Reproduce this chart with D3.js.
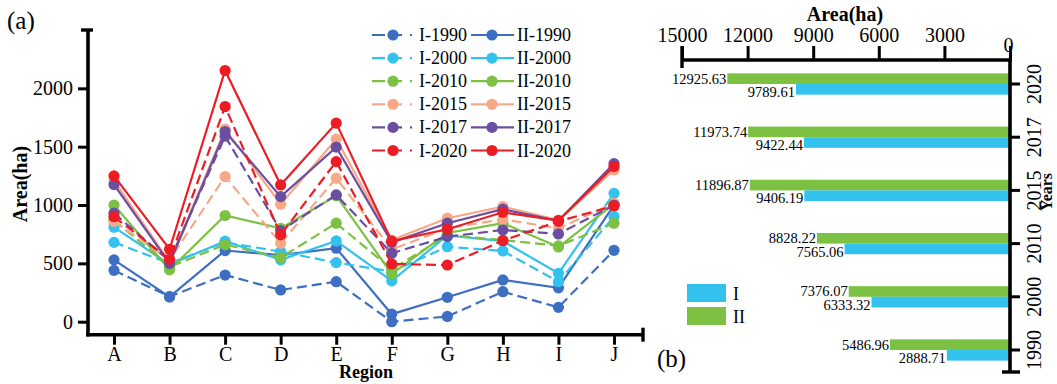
<!DOCTYPE html>
<html>
<head>
<meta charset="utf-8">
<script src="https://cdn.jsdelivr.net/npm/d3@7"></script>
<style>
  body { margin: 0; background: #fff; }
  svg { display: block; font-family: "Liberation Serif", "Times New Roman", serif; }
</style>
</head>
<body>
<svg id="chart" width="1057" height="384"></svg>
<script>
// ---- Panel (a): area by region, type I (dashed) and type II (solid) ----
const regions = ["A", "B", "C", "D", "E", "F", "G", "H", "I", "J"];
const lineYears = ["1990", "2000", "2010", "2015", "2017", "2020"];
const yTicksA = [0, 500, 1000, 1500, 2000];

const i1990  = [440, 215, 400, 272, 343, 0, 45, 257, 123, 612];
const ii1990 = [530, 212, 610, 570, 630, 65, 209, 358, 290, 1000];
const i2000  = [680, 500, 680, 600, 506, 430, 643, 606, 343, 900];
const ii2000 = [810, 490, 690, 530, 692, 350, 740, 690, 415, 1100];
const i2010  = [870, 470, 660, 550, 844, 450, 740, 700, 650, 844];
const ii2010 = [1000, 445, 910, 800, 1080, 410, 760, 844, 640, 1010];
const i2015  = [860, 530, 1244, 672, 1230, 620, 800, 878, 800, 1015];
const ii2015 = [1210, 510, 1650, 1007, 1564, 700, 887, 986, 870, 1300];
const i2017  = [930, 520, 1590, 780, 1087, 587, 729, 786, 752, 1000];
const ii2017 = [1175, 500, 1630, 1072, 1496, 680, 844, 964, 865, 1355];
const i2020  = [900, 535, 1844, 744, 1372, 495, 486, 695, 860, 992];
const ii2020 = [1250, 621, 2153, 1172, 1702, 690, 792, 938, 866, 1330];

// ---- Panel (b): total area per year ----
const barYears = ["2020", "2017", "2015", "2010", "2000", "1990"];
const totalI  = [9789.61, 9422.44, 9406.19, 7565.06, 6333.32, 2888.71];
const totalII = [12925.63, 11973.74, 11896.87, 8828.22, 7376.07, 5486.96];
const xTicksB = [15000, 12000, 9000, 6000, 3000, 0];

const yearColor = {
  "1990": "#3d6ec1", "2000": "#33c1ee", "2010": "#7cc142",
  "2015": "#f7a987", "2017": "#6a4ea2", "2020": "#ed1c24"
};
const colorI = "#33c1ee", colorII = "#7cc142";

const series = [
  { name: "I-1990", year: "1990", type: "I", values: i1990 },
  { name: "II-1990", year: "1990", type: "II", values: ii1990 },
  { name: "I-2000", year: "2000", type: "I", values: i2000 },
  { name: "II-2000", year: "2000", type: "II", values: ii2000 },
  { name: "I-2010", year: "2010", type: "I", values: i2010 },
  { name: "II-2010", year: "2010", type: "II", values: ii2010 },
  { name: "I-2015", year: "2015", type: "I", values: i2015 },
  { name: "II-2015", year: "2015", type: "II", values: ii2015 },
  { name: "I-2017", year: "2017", type: "I", values: i2017 },
  { name: "II-2017", year: "2017", type: "II", values: ii2017 },
  { name: "I-2020", year: "2020", type: "I", values: i2020 },
  { name: "II-2020", year: "2020", type: "II", values: ii2020 }
];

const svg = d3.select("#chart");

// =================== Panel (a) ===================
const axX = 88, axY = 334.7;
const x = d3.scalePoint().domain(regions).range([114, 614]);
const y = d3.scaleLinear().domain([0, 2500]).range([321.7, 30]);

svg.append("text").attr("x", 7).attr("y", 29).attr("font-size", 25).text("(a)");

const gA = svg.append("g");

// y axis
const yAxis = d3.axisLeft(y).tickValues(yTicksA).tickSize(10).tickPadding(5).tickFormat(d3.format("d"));
const gy = gA.append("g").attr("transform", `translate(${axX},0)`).call(yAxis);
gy.select(".domain").remove();
gy.selectAll(".tick line").attr("stroke", "#000").attr("stroke-width", 3);
gy.selectAll(".tick text").attr("font-size", 20).attr("fill", "#000")
  .attr("font-family", "Liberation Serif, serif");
gA.append("line").attr("x1", axX).attr("x2", axX).attr("y1", y(2500)).attr("y2", axY + 1.7)
  .attr("stroke", "#000").attr("stroke-width", 3.6);
gA.append("line").attr("x1", axX - 7).attr("x2", axX + 5).attr("y1", y(2500)).attr("y2", y(2500))
  .attr("stroke", "#000").attr("stroke-width", 3.4);

// x axis
const xAxis = d3.axisBottom(x).tickSize(10).tickPadding(2);
const gx = gA.append("g").attr("transform", `translate(0,${axY})`).call(xAxis);
gx.select(".domain").remove();
gx.selectAll(".tick line").attr("stroke", "#000").attr("stroke-width", 3);
gx.selectAll(".tick text").attr("font-size", 20).attr("fill", "#000")
  .attr("font-family", "Liberation Serif, serif");
gA.append("line").attr("x1", axX - 1.8).attr("x2", 644).attr("y1", axY).attr("y2", axY)
  .attr("stroke", "#000").attr("stroke-width", 3.6);
gA.append("line").attr("x1", 643).attr("x2", 643).attr("y1", axY - 7).attr("y2", axY + 7)
  .attr("stroke", "#000").attr("stroke-width", 3.4);

// axis titles
gA.append("text").attr("transform", "translate(27,184) rotate(-90)")
  .attr("text-anchor", "middle").attr("font-size", 20).attr("font-weight", "bold").text("Area(ha)");
gA.append("text").attr("x", 366).attr("y", 378)
  .attr("text-anchor", "middle").attr("font-size", 18).attr("font-weight", "bold").text("Region");

// lines and markers
const line = d3.line().x((d, i) => x(regions[i])).y(d => y(d));
const gLines = gA.append("g");
series.forEach(s => {
  const g = gLines.append("g");
  g.append("path").datum(s.values).attr("d", line)
    .attr("fill", "none").attr("stroke", yearColor[s.year]).attr("stroke-width", 2.2)
    .attr("stroke-dasharray", s.type === "I" ? "10,5" : null);
  g.selectAll("circle").data(s.values).join("circle")
    .attr("cx", (d, i) => x(regions[i])).attr("cy", d => y(d)).attr("r", 5.6)
    .attr("fill", yearColor[s.year]);
});

// legend
const legend = gA.append("g");
lineYears.forEach((yr, r) => {
  const cy = 35 + r * 23.1;
  const col = yearColor[yr];
  // type I (dashed)
  legend.append("line").attr("x1", 372).attr("x2", 415).attr("y1", cy).attr("y2", cy)
    .attr("stroke", col).attr("stroke-width", 2.2).attr("stroke-dasharray", "13,4,13,8,2");
  legend.append("circle").attr("cx", 393).attr("cy", cy).attr("r", 5.6).attr("fill", col);
  legend.append("text").attr("x", 419).attr("y", cy + 6).attr("font-size", 18).text("I-" + yr);
  // type II (solid)
  legend.append("line").attr("x1", 471).attr("x2", 514).attr("y1", cy).attr("y2", cy)
    .attr("stroke", col).attr("stroke-width", 2.2);
  legend.append("circle").attr("cx", 492).attr("cy", cy).attr("r", 5.6).attr("fill", col);
  legend.append("text").attr("x", 517).attr("y", cy + 6).attr("font-size", 18).text("II-" + yr);
});

// =================== Panel (b) ===================
const gB = svg.append("g");
const bx0 = 1010, byTop = 60, byBot = 372;
const xb = d3.scaleLinear().domain([0, 15000]).range([bx0, 682]);
const yb = d3.scaleBand().domain(barYears).range([57.4, 376.6]).paddingInner(0.6).paddingOuter(0.3);
const yIn = d3.scaleBand().domain(["II", "I"]).range([0, yb.bandwidth()]);

// bars
const barData = barYears.map((yr, i) => ({ year: yr, I: totalI[i], II: totalII[i] }));
const groups = gB.selectAll("g.year").data(barData).join("g")
  .attr("class", "year").attr("transform", d => `translate(0,${yb(d.year)})`);
["II", "I"].forEach(k => {
  groups.append("rect")
    .attr("x", d => xb(d[k])).attr("y", yIn(k))
    .attr("width", d => bx0 - xb(d[k])).attr("height", yIn.bandwidth())
    .attr("fill", k === "I" ? colorI : colorII);
  groups.append("text")
    .attr("x", d => xb(d[k]) - 1).attr("y", yIn(k) + yIn.bandwidth() + (k === "I" ? 2.4 : -0.5))
    .attr("text-anchor", "end").attr("font-size", 14.5)
    .text(d => d3.format(".2f")(d[k]));
});

// top axis
const xAxisB = d3.axisTop(xb).tickValues(xTicksB).tickSize(14).tickPadding(4).tickFormat(d3.format("d"));
const gxb = gB.append("g").attr("transform", `translate(0,${byTop})`).call(xAxisB);
gxb.select(".domain").remove();
gxb.selectAll(".tick line").attr("stroke", "#000").attr("stroke-width", 3);
gxb.selectAll(".tick text").attr("font-size", 20).attr("fill", "#000")
  .attr("font-family", "Liberation Serif, serif")
  .attr("transform", d => d === 0 ? "translate(-2,10)" : null);
gB.append("line").attr("x1", 682).attr("x2", bx0 + 1.8).attr("y1", byTop).attr("y2", byTop)
  .attr("stroke", "#000").attr("stroke-width", 3.6);
gB.append("line").attr("x1", 682).attr("x2", 682).attr("y1", byTop - 14).attr("y2", byTop + 8)
  .attr("stroke", "#000").attr("stroke-width", 3.4);
gB.append("text").attr("x", 845).attr("y", 21).attr("text-anchor", "middle")
  .attr("font-size", 20).attr("font-weight", "bold").text("Area(ha)");

// right axis (years)
gB.append("line").attr("x1", bx0).attr("x2", bx0).attr("y1", byTop - 1.8).attr("y2", byBot)
  .attr("stroke", "#000").attr("stroke-width", 3.6);
gB.append("line").attr("x1", bx0 - 8).attr("x2", bx0 + 10).attr("y1", byBot).attr("y2", byBot)
  .attr("stroke", "#000").attr("stroke-width", 3.4);
barYears.forEach(yr => {
  const cy = yb(yr) + yb.bandwidth() / 2;
  gB.append("line").attr("x1", bx0).attr("x2", bx0 + 10).attr("y1", cy).attr("y2", cy)
    .attr("stroke", "#000").attr("stroke-width", 3);
  gB.append("text").attr("transform", `translate(1041,${cy}) rotate(-90)`)
    .attr("text-anchor", "middle").attr("font-size", 20).text(yr);
});
gB.append("text").attr("transform", "translate(1052,192) rotate(-90)")
  .attr("text-anchor", "middle").attr("font-size", 16).attr("font-weight", "bold").text("Years");

// legend (b)
gB.append("rect").attr("x", 687).attr("y", 284).attr("width", 39).attr("height", 18).attr("fill", colorI);
gB.append("rect").attr("x", 687).attr("y", 307).attr("width", 39).attr("height", 18).attr("fill", colorII);
gB.append("text").attr("x", 733).attr("y", 300).attr("font-size", 18).text("I");
gB.append("text").attr("x", 733).attr("y", 323).attr("font-size", 18).text("II");

svg.append("text").attr("x", 657).attr("y", 367).attr("font-size", 25).text("(b)");
</script>
</body>
</html>
